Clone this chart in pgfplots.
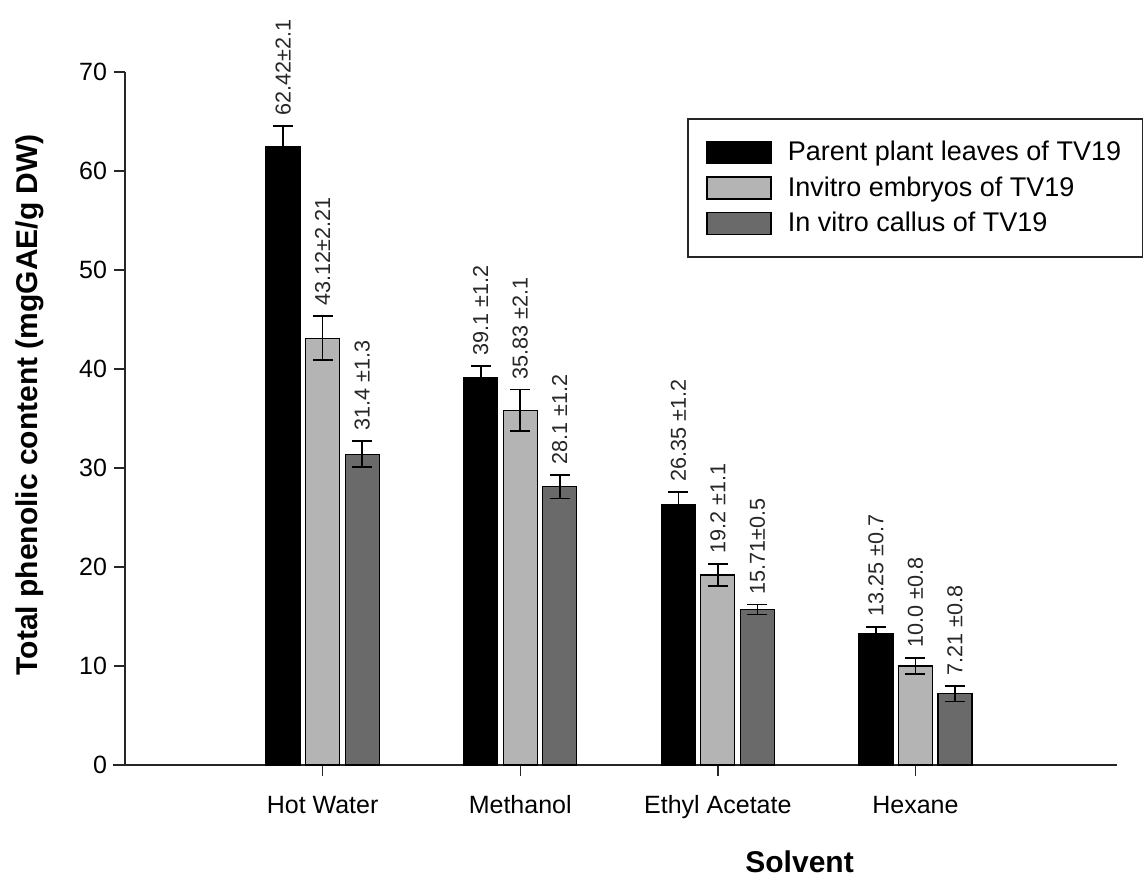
\documentclass[border=0pt]{standalone}
\usepackage{pgfplots}
\usepackage{pgfplotstable}
\pgfplotsset{compat=1.18}
\usepackage{fontspec}
\setmainfont{Liberation Sans}
\definecolor{lightbar}{HTML}{B4B4B4}
\definecolor{darkbar}{HTML}{6A6A6A}

\pgfplotstableread[col sep=comma]{
x,v,e,lab
0,62.42,2.1,62.42±2.1
1,39.1,1.2,39.1 ±1.2
2,26.35,1.2,26.35 ±1.2
3,13.25,0.7,13.25 ±0.7
}\parent
\pgfplotstableread[col sep=comma]{
x,v,e,lab
0,43.12,2.21,43.12±2.21
1,35.83,2.1,35.83 ±2.1
2,19.2,1.1,19.2 ±1.1
3,10.0,0.8,10.0 ±0.8
}\embryo
\pgfplotstableread[col sep=comma]{
x,v,e,lab
0,31.4,1.3,31.4 ±1.3
1,28.1,1.2,28.1 ±1.2
2,15.71,0.5,15.71±0.5
3,7.21,0.8,7.21 ±0.8
}\callus

\begin{document}
\begin{tikzpicture}
\begin{axis}[
  name=ax,
  scale only axis,
  width=496pt, height=346.5pt,
  xmin=-1, xmax=4.02,
  ymin=0, ymax=70,
  axis x line=bottom, axis y line=left,
  axis line style={-, line width=0.7pt, black!85},
  x axis line style={shorten <=-6pt},
  tick align=outside,
  major tick length=5.5pt,
  tick style={line width=0.7pt, black!85},
  xtick={0,1,2,3},
  xticklabels={Hot Water, Methanol, Ethyl Acetate, Hexane},
  ytick={0,10,...,70},
  /pgf/number format/assume math mode=true,
  tick label style={font=\fontsize{12.5}{14}\selectfont},
  xticklabel style={yshift=-6pt, text height=9pt, text depth=2.5pt},
  every axis y label/.style={at={(axis description cs:-0.096,0.52)}, rotate=90, anchor=center},
  every axis x label/.style={at={(axis description cs:0.68,0)}, yshift=-48.5pt, anchor=center},
  label style={font=\fontsize{15}{18}\selectfont\bfseries},
  ylabel={Total phenolic content (mgGAE/g DW)},
  xlabel={Solvent},
  legend image code/.code={\draw[#1, line width=0.8pt] (0pt,-5.5pt) rectangle (32pt,5.5pt);},
  legend style={at={(rel axis cs:0.567,0.933)}, anchor=north west,
    draw=black!85, line width=0.8pt, font=\fontsize{13.5}{16}\selectfont,
    inner xsep=9pt, inner ysep=9pt, row sep=2.5pt,
    /tikz/every odd column/.append style={column sep=6pt},
    cells={anchor=west}},
  legend cell align=left,
  error bars/error bar style={line width=0.8pt, black},
  error bars/error mark options={rotate=90, mark size=5pt, line width=0.8pt, black},
  lbl/.style={draw=none, mark=none, forget plot,
    nodes near coords, point meta=explicit symbolic,
    every node near coord/.style={rotate=90, anchor=west, inner sep=0pt, xshift=5pt,
      font=\fontsize{10.8}{12}\selectfont, text=black!85}},
]
\addplot[ybar, bar width=0.172, bar shift=0, fill=black, draw=black, line width=0.6pt,
  error bars/.cd, y dir=both, y explicit]
  table[x expr=\thisrow{x}-0.2, y=v, y error=e] {\parent};
\addlegendentry{Parent plant leaves of TV19}
\addplot[ybar, bar width=0.172, bar shift=0, fill=lightbar, draw=black, line width=0.6pt,
  error bars/.cd, y dir=both, y explicit]
  table[x=x, y=v, y error=e] {\embryo};
\addlegendentry{Invitro embryos of TV19}
\addplot[ybar, bar width=0.172, bar shift=0, fill=darkbar, draw=black, line width=0.6pt,
  error bars/.cd, y dir=both, y explicit]
  table[x expr=\thisrow{x}+0.2, y=v, y error=e] {\callus};
\addlegendentry{In vitro callus of TV19}

\addplot[lbl] table[x expr=\thisrow{x}-0.2, y expr=\thisrow{v}+\thisrow{e}, meta=lab] {\parent};
\addplot[lbl] table[x expr=\thisrow{x}, y expr=\thisrow{v}+\thisrow{e}, meta=lab] {\embryo};
\addplot[lbl] table[x expr=\thisrow{x}+0.2, y expr=\thisrow{v}+\thisrow{e}, meta=lab] {\callus};
\end{axis}
\pgfresetboundingbox
\path (ax.south west) ++(-62.5pt,-56.5pt) rectangle ++(571.5pt,439pt);
\end{tikzpicture}
\end{document}
